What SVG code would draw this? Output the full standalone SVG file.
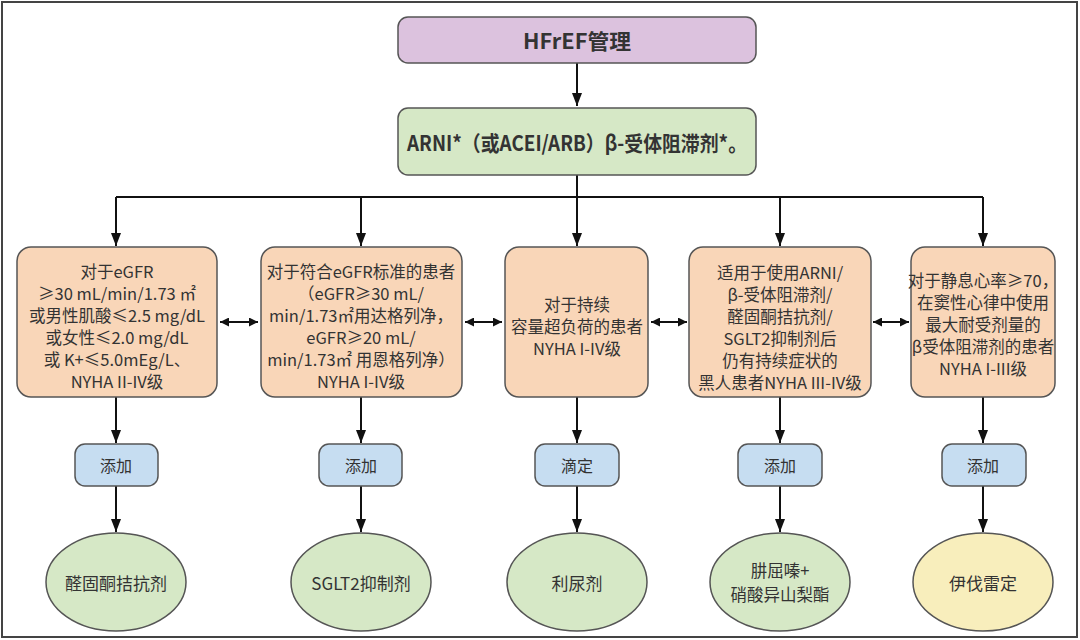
<svg xmlns="http://www.w3.org/2000/svg" width="1080" height="640" viewBox="0 0 1080 640">
<defs>
<marker id="ah" viewBox="0 0 13 10" refX="13" refY="5" markerWidth="6.5" markerHeight="5" orient="auto-start-reverse" markerUnits="strokeWidth">
<path d="M0,0 L13,5 L0,10 z" fill="#111"/>
</marker>
<marker id="ah2" viewBox="0 0 10 10" refX="10" refY="5" markerWidth="4.5" markerHeight="4.5" orient="auto-start-reverse" markerUnits="strokeWidth">
<path d="M0,0 L10,5 L0,10 z" fill="#111"/>
</marker>
<style>
text{font-family:"Noto Sans CJK SC","Noto Sans",sans-serif;fill:#333;text-anchor:middle;dominant-baseline:central}
.t{font-size:21px;font-weight:bold}
.o{font-size:16.5px}
.b{font-size:16px}
.e{font-size:17px}
.e2{font-size:16.5px}
.box{stroke:#555;stroke-width:1.5}
.ln{stroke:#111;stroke-width:2;fill:none}
.arr{stroke:#111;stroke-width:2;fill:none;marker-end:url(#ah)}
.dbl{stroke:#111;stroke-width:2;fill:none;marker-end:url(#ah2);marker-start:url(#ah2)}
</style>
</defs>
<rect x="0" y="0" width="1080" height="640" fill="#fff"/>
<rect x="2" y="2" width="1075" height="635" fill="none" stroke="#444" stroke-width="2"/>

<g id="connectors">
<line class="arr" x1="577" y1="63" x2="577" y2="106"/>
<line class="ln" x1="577" y1="175" x2="577" y2="197"/>
<line class="ln" x1="116" y1="197" x2="983" y2="197"/>
<line class="arr" x1="116" y1="197" x2="116" y2="246"/>
<line class="arr" x1="361" y1="197" x2="361" y2="246"/>
<line class="arr" x1="577" y1="197" x2="577" y2="246"/>
<line class="arr" x1="780" y1="197" x2="780" y2="246"/>
<line class="arr" x1="983" y1="197" x2="983" y2="246"/>
<line class="dbl" x1="220" y1="322" x2="258" y2="322"/>
<line class="dbl" x1="465" y1="322" x2="502" y2="322"/>
<line class="dbl" x1="651" y1="322" x2="687" y2="322"/>
<line class="dbl" x1="873" y1="322" x2="909" y2="322"/>
<line class="arr" x1="116" y1="397" x2="116" y2="443"/>
<line class="arr" x1="361" y1="397" x2="361" y2="443"/>
<line class="arr" x1="577" y1="397" x2="577" y2="443"/>
<line class="arr" x1="780" y1="397" x2="780" y2="443"/>
<line class="arr" x1="983" y1="397" x2="983" y2="443"/>
<line class="arr" x1="116" y1="486" x2="116" y2="532"/>
<line class="arr" x1="361" y1="486" x2="361" y2="532"/>
<line class="arr" x1="577" y1="486" x2="577" y2="532"/>
<line class="arr" x1="780" y1="486" x2="780" y2="532"/>
<line class="arr" x1="983" y1="486" x2="983" y2="532"/>
</g>

<g id="n-top">
<rect class="box" x="398" y="17" width="358" height="46" rx="10" fill="#DCC2DE"/>
<text class="t" x="577" y="40" textLength="108" lengthAdjust="spacingAndGlyphs">HFrEF管理</text>
</g>
<g id="n-base">
<rect class="box" x="398" y="108" width="358" height="67" rx="10" fill="#D6E8C6"/>
<text class="t" x="577" y="142" textLength="340" lengthAdjust="spacingAndGlyphs">ARNI*（或ACEI/ARB）β-受体阻滞剂*。</text>
</g>

<g id="c1">
<rect class="box" x="17" y="247" width="200" height="150" rx="14" fill="#F9D6B8"/>
<text class="o" x="117"><tspan x="117" y="271">对于eGFR</tspan><tspan x="117" y="293">≥30 mL/min/1.73 ㎡</tspan><tspan x="117" y="315">或男性肌酸≤2.5 mg/dL</tspan><tspan x="117" y="337">或女性≤2.0 mg/dL</tspan><tspan x="117" y="359">或 K+≤5.0mEg/L、</tspan><tspan x="117" y="381">NYHA II-IV级</tspan></text>
</g>
<g id="c2">
<rect class="box" x="261" y="247" width="201" height="150" rx="14" fill="#F9D6B8"/>
<text class="o" x="361"><tspan x="361" y="271">对于符合eGFR标准的患者</tspan><tspan x="361" y="293">（eGFR≥30 mL/</tspan><tspan x="361" y="315">min/1.73㎡用达格列净，</tspan><tspan x="361" y="337">eGFR≥20 mL/</tspan><tspan x="361" y="359">min/1.73㎡ 用恩格列净）</tspan><tspan x="361" y="381">NYHA I-IV级</tspan></text>
</g>
<g id="c3">
<rect class="box" x="505" y="247" width="143" height="150" rx="14" fill="#F9D6B8"/>
<text class="o" x="577"><tspan x="577" y="304">对于持续</tspan><tspan x="577" y="326">容量超负荷的患者</tspan><tspan x="577" y="348">NYHA I-IV级</tspan></text>
</g>
<g id="c4">
<rect class="box" x="689" y="247" width="182" height="150" rx="14" fill="#F9D6B8"/>
<text class="o" x="780"><tspan x="780" y="272">适用于使用ARNI/</tspan><tspan x="780" y="294">β-受体阻滞剂/</tspan><tspan x="780" y="316">醛固酮拮抗剂/</tspan><tspan x="780" y="338">SGLT2抑制剂后</tspan><tspan x="780" y="360">仍有持续症状的</tspan><tspan x="780" y="382">黑人患者NYHA III-IV级</tspan></text>
</g>
<g id="c5">
<rect class="box" x="911" y="247" width="144" height="150" rx="14" fill="#F9D6B8"/>
<text class="o" x="983"><tspan x="983" y="280">对于静息心率≥70，</tspan><tspan x="983" y="302">在窦性心律中使用</tspan><tspan x="983" y="324">最大耐受剂量的</tspan><tspan x="983" y="346">β受体阻滞剂的患者</tspan><tspan x="983" y="368">NYHA I-III级</tspan></text>
</g>

<g id="a1"><rect class="box" x="75" y="444" width="83" height="42" rx="10" fill="#C6DDF1"/><text class="b" x="116" y="465">添加</text></g>
<g id="a2"><rect class="box" x="319" y="444" width="83" height="42" rx="10" fill="#C6DDF1"/><text class="b" x="361" y="465">添加</text></g>
<g id="a3"><rect class="box" x="535" y="444" width="84" height="42" rx="10" fill="#C6DDF1"/><text class="b" x="577" y="465">滴定</text></g>
<g id="a4"><rect class="box" x="738" y="444" width="84" height="42" rx="10" fill="#C6DDF1"/><text class="b" x="780" y="465">添加</text></g>
<g id="a5"><rect class="box" x="942" y="444" width="84" height="42" rx="10" fill="#C6DDF1"/><text class="b" x="983" y="465">添加</text></g>

<g id="d1"><ellipse class="box" cx="116" cy="582" rx="70" ry="49" fill="#D6E8C6"/><text class="e" x="116" y="582">醛固酮拮抗剂</text></g>
<g id="d2"><ellipse class="box" cx="361" cy="582" rx="70" ry="49" fill="#D6E8C6"/><text class="e" x="361" y="582">SGLT2抑制剂</text></g>
<g id="d3"><ellipse class="box" cx="577" cy="582" rx="70" ry="49" fill="#D6E8C6"/><text class="e" x="577" y="582">利尿剂</text></g>
<g id="d4"><ellipse class="box" cx="780" cy="582" rx="70" ry="49" fill="#D6E8C6"/><text class="e2" x="780" y="570">肼屈嗪+</text><text class="e2" x="780" y="594">硝酸异山梨酯</text></g>
<g id="d5"><ellipse class="box" cx="983" cy="582" rx="70" ry="49" fill="#F8EEBC"/><text class="e" x="983" y="582">伊伐雷定</text></g>
</svg>
